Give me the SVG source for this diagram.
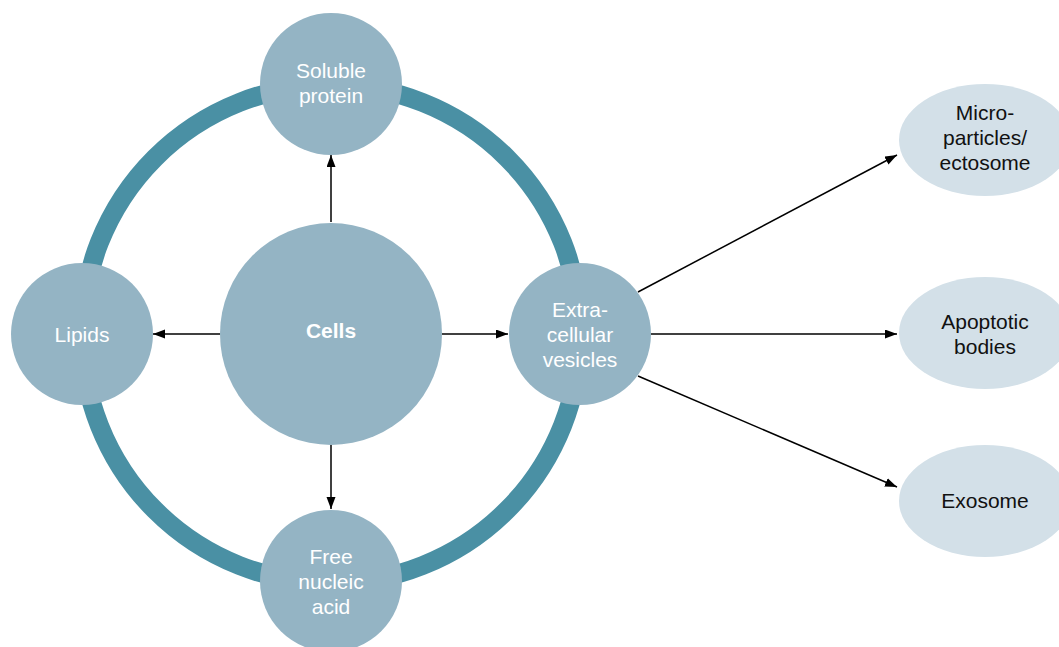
<svg xmlns="http://www.w3.org/2000/svg" width="1059" height="647" viewBox="0 0 1059 647">
<style>
.node{fill:#94b4c4}
.ell{fill:#d3e0e8}
.wt{font-family:"Liberation Sans",Arial,sans-serif;font-size:21px;fill:#ffffff;text-anchor:middle}
.bt{font-family:"Liberation Sans",Arial,sans-serif;font-size:21px;fill:#111111;text-anchor:middle}
.conn line{stroke:#000;stroke-width:1.5;fill:none;marker-end:url(#ah)}
</style>
<defs>
<marker id="ah" markerUnits="userSpaceOnUse" markerWidth="12" markerHeight="10" refX="12" refY="4.5" orient="auto">
<path d="M0,0 L12,4.5 L0,9 z" fill="#000"/>
</marker>
</defs>
<rect width="1059" height="647" fill="#fff"/>
<circle id="ring" cx="331" cy="334" r="249" fill="none" stroke="#4a90a4" stroke-width="19"/>
<g class="conn" id="connectors">
<line x1="331" y1="222" x2="331" y2="155"/>
<line x1="220" y1="334" x2="153" y2="334"/>
<line x1="442" y1="334" x2="508" y2="334"/>
<line x1="331" y1="445" x2="331" y2="509"/>
<line x1="638" y1="292" x2="897" y2="155"/>
<line x1="651" y1="334" x2="897" y2="334"/>
<line x1="638" y1="376" x2="897" y2="487"/>
</g>
<g id="cells"><circle class="node" cx="331" cy="334" r="111"/><text class="wt" x="331" y="337.5" font-weight="bold">Cells</text></g>
<g id="soluble-protein"><circle class="node" cx="331" cy="84" r="71"/><text class="wt" x="331" y="78">Soluble</text><text class="wt" x="331" y="103">protein</text></g>
<g id="lipids"><circle class="node" cx="82" cy="334" r="71"/><text class="wt" x="82" y="341.5">Lipids</text></g>
<g id="extracellular-vesicles"><circle class="node" cx="580" cy="334" r="71"/><text class="wt" x="580" y="316.5">Extra-</text><text class="wt" x="580" y="341.5">cellular</text><text class="wt" x="580" y="366.5">vesicles</text></g>
<g id="free-nucleic-acid"><circle class="node" cx="331" cy="581" r="71"/><text class="wt" x="331" y="563.5">Free</text><text class="wt" x="331" y="588.5">nucleic</text><text class="wt" x="331" y="613.5">acid</text></g>
<g id="microparticles"><ellipse class="ell" cx="985" cy="140" rx="86" ry="56"/><text class="bt" x="985" y="119.5">Micro-</text><text class="bt" x="985" y="144.5">particles/</text><text class="bt" x="985" y="169.5">ectosome</text></g>
<g id="apoptotic-bodies"><ellipse class="ell" cx="985" cy="333" rx="86" ry="56"/><text class="bt" x="985" y="328.5">Apoptotic</text><text class="bt" x="985" y="353.5">bodies</text></g>
<g id="exosome"><ellipse class="ell" cx="985" cy="501" rx="86" ry="56"/><text class="bt" x="985" y="507.5">Exosome</text></g>
</svg>
